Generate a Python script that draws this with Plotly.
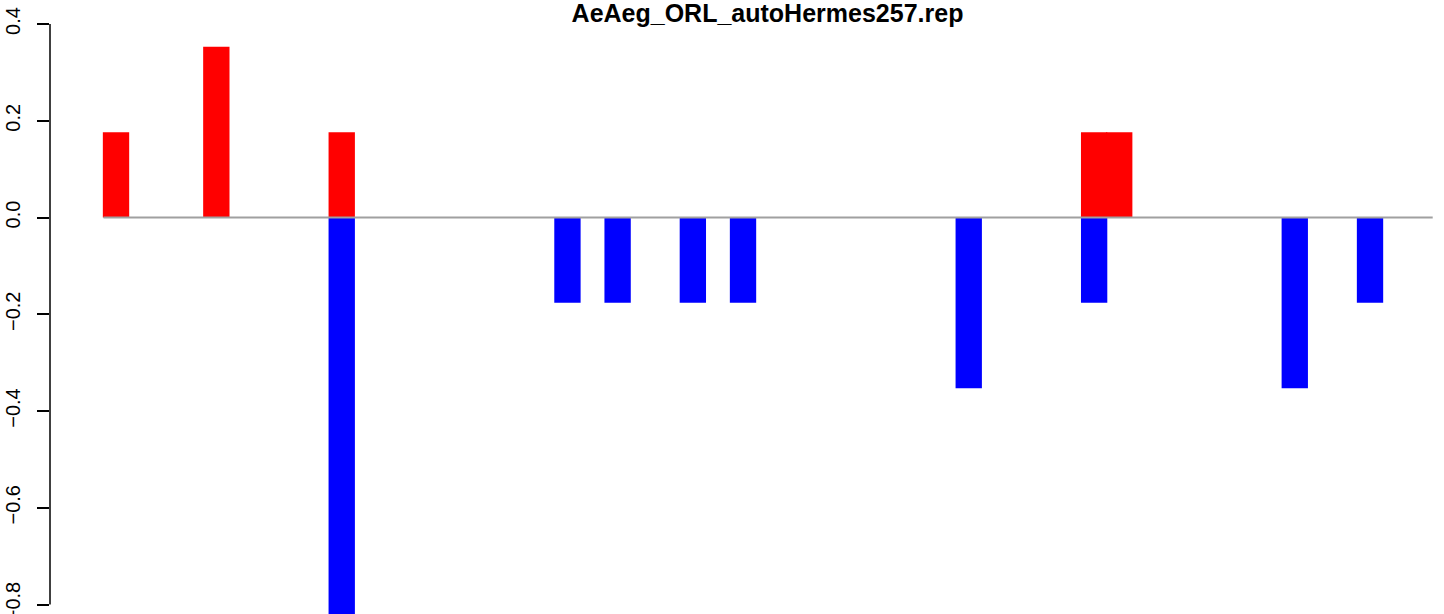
import plotly.graph_objects as go

# Chart data
n_positions = 53
up_x = [0, 4, 9, 39, 40]
up_y = [0.176, 0.353, 0.176, 0.176, 0.176]
down_x = [9, 18, 20, 23, 25, 34, 39, 47, 50]
down_y = [-0.824, -0.176, -0.176, -0.176, -0.176, -0.353, -0.176, -0.353, -0.176]
y_ticks = [-0.8, -0.6, -0.4, -0.2, 0.0, 0.2, 0.4]
title = "AeAeg_ORL_autoHermes257.rep"

font = "Liberation Sans, Arial, Helvetica, sans-serif"

fig = go.Figure()

# zero line across all positions
fig.add_trace(go.Scatter(x=[-0.5, n_positions - 0.5], y=[0, 0], mode="lines",
                         line=dict(color="#a0a0a0", width=2), hoverinfo="skip"))

fig.add_trace(go.Bar(x=up_x, y=up_y, width=1.05, marker=dict(color="#ff0000", line=dict(width=0))))
fig.add_trace(go.Bar(x=down_x, y=down_y, width=1.05, marker=dict(color="#0000ff", line=dict(width=0))))

# R-style y axis line, only spanning the tick range
fig.add_shape(type="line", xref="paper", x0=0, x1=0, yref="y", y0=min(y_ticks), y1=max(y_ticks),
              line=dict(color="black", width=1.5))

fig.update_layout(
    template="none",
    width=1444, height=614,
    margin=dict(l=50, r=0, t=24, b=0),
    plot_bgcolor="white", paper_bgcolor="white",
    showlegend=False,
    barmode="overlay",
    font=dict(family=font, size=20, color="black"),
    title=dict(text="<b>" + title + "</b>", xref="container", x=767.5 / 1444, xanchor="center",
               yref="container", y=1 - 4 / 614, yanchor="top", font=dict(size=25, family=font)),
    xaxis=dict(range=[-2.632, 52.95], visible=False, showgrid=False, zeroline=False),
    yaxis=dict(range=[-0.8196, 0.4], tickvals=y_ticks, tickformat=".1f", tickangle=-90,
               ticks="outside", ticklen=12, tickwidth=1.5, tickcolor="black",
               showline=False, showgrid=False, zeroline=False, automargin=False,
               ticklabelstandoff=9, ticklabeloverflow="allow", tickfont=dict(size=20, family=font)),
)

fig.write_html("out.html", config={"displayModeBar": False},
               post_script="document.body.style.margin='0px';")
